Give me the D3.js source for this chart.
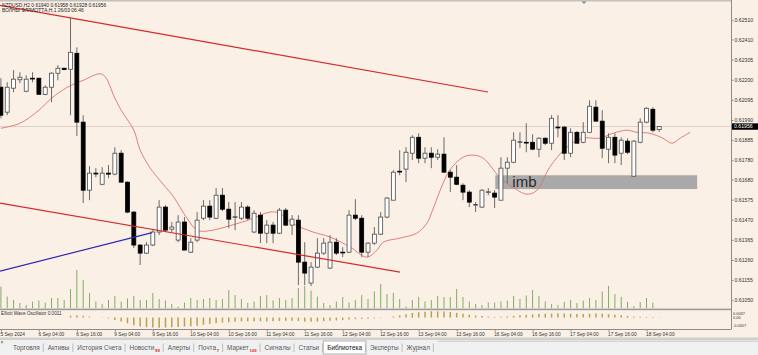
<!DOCTYPE html>
<html>
<head>
<meta charset="utf-8">
<script src="https://cdn.jsdelivr.net/npm/d3@7/dist/d3.min.js"></script>
<style>
  body { margin: 0; overflow: hidden; background: #fbf0e6; }
  svg { display: block; font-family: "Liberation Sans", Arial, sans-serif; }
</style>
</head>
<body>
<svg id="chart" width="758" height="355"></svg>
<script>
// NZDUSD H2, bars 0..104 = 5 Sep 16:00 .. 18 Sep 08:00
const opens = [
  0.62161, 0.62031, 0.62156, 0.62200, 0.62140, 0.62208, 0.62208, 0.62124, 0.62161, 0.62234,
  0.62260, 0.62255, 0.62338, 0.61979, 0.61624, 0.61713, 0.61655, 0.61713, 0.61708, 0.61817,
  0.61666, 0.61510, 0.61338, 0.61296, 0.61338, 0.61406, 0.61536, 0.61421, 0.61364, 0.61458,
  0.61301, 0.61364, 0.61478, 0.61541, 0.61478, 0.61598, 0.61525, 0.61482, 0.61478, 0.61536,
  0.61406, 0.61494, 0.61400, 0.61442, 0.61400, 0.61520, 0.61442, 0.61468, 0.61249, 0.61140,
  0.61223, 0.61296, 0.61218, 0.61353, 0.61301, 0.61301, 0.61494, 0.61478, 0.61301, 0.61348,
  0.61395, 0.61484, 0.61572, 0.61723, 0.61734, 0.61817, 0.61900, 0.61791, 0.61817, 0.61796,
  0.61812, 0.61718, 0.61692, 0.61650, 0.61614, 0.61546, 0.61536, 0.61614, 0.61609, 0.61572,
  0.61739, 0.61770, 0.61874, 0.61874, 0.61874, 0.61838, 0.61895, 0.61869, 0.61953, 0.61953,
  0.61817, 0.61926, 0.61874, 0.61926, 0.62057, 0.61984, 0.61838, 0.61900, 0.61817, 0.61880,
  0.61697, 0.61874, 0.61979, 0.62046, 0.61940
];
const highs = [
  0.62208, 0.62187, 0.62250, 0.62239, 0.62223, 0.62239, 0.62210, 0.62171, 0.62239, 0.62276,
  0.62262, 0.62520, 0.62369, 0.62015, 0.61749, 0.61739, 0.61744, 0.61755, 0.61848, 0.61833,
  0.61670, 0.61515, 0.61343, 0.61353, 0.61416, 0.61572, 0.61546, 0.61458, 0.61494, 0.61484,
  0.61374, 0.61510, 0.61572, 0.61572, 0.61635, 0.61635, 0.61562, 0.61562, 0.61562, 0.61546,
  0.61520, 0.61510, 0.61468, 0.61458, 0.61531, 0.61531, 0.61494, 0.61494, 0.61353, 0.61249,
  0.61374, 0.61374, 0.61390, 0.61374, 0.61327, 0.61520, 0.61577, 0.61494, 0.61353, 0.61432,
  0.61510, 0.61588, 0.61728, 0.61833, 0.61848, 0.61911, 0.61921, 0.61848, 0.61848, 0.61838,
  0.61900, 0.61730, 0.61755, 0.61660, 0.61624, 0.61562, 0.61630, 0.61635, 0.61624, 0.61796,
  0.61796, 0.61926, 0.61926, 0.61973, 0.61916, 0.61900, 0.61900, 0.62015, 0.62015, 0.61958,
  0.61947, 0.61932, 0.61979, 0.62093, 0.62093, 0.62041, 0.61921, 0.61921, 0.61900, 0.61895,
  0.61885, 0.61999, 0.62057, 0.62057, 0.61958
];
const lows = [
  0.61999, 0.62015, 0.62135, 0.62182, 0.62135, 0.62187, 0.62124, 0.62119, 0.62083, 0.62197,
  0.62250, 0.62015, 0.61906, 0.61557, 0.61572, 0.61692, 0.61650, 0.61687, 0.61702, 0.61666,
  0.61504, 0.61322, 0.61234, 0.61291, 0.61333, 0.61390, 0.61406, 0.61406, 0.61353, 0.61312,
  0.61296, 0.61353, 0.61468, 0.61468, 0.61473, 0.61515, 0.61426, 0.61416, 0.61468, 0.61468,
  0.61400, 0.61348, 0.61348, 0.61348, 0.61395, 0.61437, 0.61390, 0.61129, 0.61129, 0.61124,
  0.61218, 0.61286, 0.61213, 0.61286, 0.61275, 0.61296, 0.61468, 0.61275, 0.61275, 0.61338,
  0.61390, 0.61478, 0.61572, 0.61702, 0.61666, 0.61781, 0.61765, 0.61765, 0.61739, 0.61781,
  0.61718, 0.61614, 0.61650, 0.61572, 0.61536, 0.61510, 0.61531, 0.61598, 0.61531, 0.61572,
  0.61660, 0.61765, 0.61843, 0.61822, 0.61833, 0.61796, 0.61859, 0.61833, 0.61900, 0.61781,
  0.61796, 0.61869, 0.61869, 0.61926, 0.61984, 0.61791, 0.61765, 0.61765, 0.61755, 0.61812,
  0.61697, 0.61869, 0.61973, 0.61926, 0.61928
];
const closes = [
  0.62015, 0.62161, 0.62203, 0.62213, 0.62203, 0.62206, 0.62124, 0.62161, 0.62234, 0.62260,
  0.62253, 0.62343, 0.61979, 0.61624, 0.61713, 0.61711, 0.61713, 0.61708, 0.61817, 0.61666,
  0.61510, 0.61338, 0.61296, 0.61338, 0.61406, 0.61536, 0.61416, 0.61432, 0.61458, 0.61312,
  0.61353, 0.61468, 0.61541, 0.61484, 0.61598, 0.61525, 0.61473, 0.61486, 0.61536, 0.61478,
  0.61504, 0.61400, 0.61442, 0.61400, 0.61520, 0.61442, 0.61473, 0.61249, 0.61192, 0.61223,
  0.61296, 0.61348, 0.61353, 0.61296, 0.61299, 0.61494, 0.61478, 0.61301, 0.61348, 0.61395,
  0.61484, 0.61583, 0.61718, 0.61720, 0.61822, 0.61900, 0.61791, 0.61817, 0.61796, 0.61812,
  0.61718, 0.61692, 0.61655, 0.61614, 0.61562, 0.61550, 0.61624, 0.61616, 0.61588, 0.61739,
  0.61770, 0.61885, 0.61877, 0.61872, 0.61838, 0.61895, 0.61869, 0.61999, 0.61950, 0.61817,
  0.61926, 0.61869, 0.61926, 0.62062, 0.61984, 0.61843, 0.61900, 0.61807, 0.61885, 0.61822,
  0.61880, 0.61979, 0.62051, 0.61937, 0.61956
];
// tick volume
const volumes = [
  2200, 1200, 850, 550, 350, 700, 800, 600, 1050, 1050,
  850, 1950, 3850, 2850, 1550, 700, 450, 850, 1250, 700,
  1000, 1250, 850, 850, 1550, 950, 800, 450, 200, 600,
  1050, 850, 950, 1050, 850, 950, 1850, 1350, 950, 550,
  700, 1250, 1350, 800, 1050, 850, 1050, 2050, 2250, 1800,
  1200, 550, 350, 700, 1150, 600, 850, 1350, 950, 1700,
  2450, 1450, 1550, 950, 200, 850, 1150, 700, 850, 1250,
  1150, 1150, 1950, 1150, 700, 450, 350, 600, 600, 700,
  800, 1250, 950, 1300, 1850, 1250, 700, 450, 350, 650,
  850, 550, 800, 1050, 850, 1700, 2250, 1450, 1150, 650,
  250, 650, 1050, 600, 50
];
// Elliott Wave Oscillator histogram
const ewo = [
  0, 0, 0, 0, 0, 0, 0, 0, 0, 0, 0,
  0.0010, 0.0012, 0.0009, 0.0005, 0.0001, -0.0001, -0.0004, -0.0012, -0.0020, -0.0030,
  -0.0040, -0.0046, -0.0050, -0.0052, -0.0053, -0.0052, -0.0050, -0.0049, -0.0047, -0.0045,
  -0.0042, -0.0038, -0.0034, -0.0030, -0.0026, -0.0024, -0.0022, -0.0020, -0.0019, -0.0019,
  -0.0020, -0.0020, -0.0019, -0.0018, -0.0017, -0.0016, -0.0018, -0.0021, -0.0022, -0.0021,
  -0.0019, -0.0017, -0.0015, -0.0013, -0.0010, -0.0008, -0.0007, -0.0006, -0.0004, -0.0002,
  0.0001, 0.0006, 0.0012, 0.0018, 0.0024, 0.0028, 0.0031, 0.0033, 0.0033, 0.0032,
  0.0029, 0.0025, 0.0020, 0.0015, 0.0011, 0.0008, 0.0005, 0.0003, 0.0004, 0.0006,
  0.0009, 0.0012, 0.0015, 0.0017, 0.0019, 0.0020, 0.0021, 0.0022, 0.0021, 0.0020,
  0.0019, 0.0019, 0.0020, 0.0021, 0.0020, 0.0018, 0.0015, 0.0012, 0.0009, 0.0006,
  0.0004, 0.0003, 0.0003, 0.0002
];
// moving average: [bar, price]
const maPoints = [
  [0, 0.61947], [3, 0.61973], [6, 0.62041], [8, 0.62104], [10.5, 0.62161], [13, 0.62197],
  [16, 0.62229], [18, 0.62104], [19, 0.62041], [21, 0.61937], [22, 0.61833], [23.6, 0.61739],
  [25.1, 0.61676], [27.2, 0.61593], [29.4, 0.61478], [31, 0.61416], [32.6, 0.61411],
  [36.5, 0.61442], [39.5, 0.61473], [42.5, 0.61510], [44, 0.61504], [46, 0.61452],
  [49.3, 0.61406], [52, 0.61380], [55.2, 0.61327], [57.8, 0.61275], [59.4, 0.61312],
  [60.4, 0.61353], [63, 0.61374], [65.7, 0.61400], [67.3, 0.61452], [68.2, 0.61520],
  [69.4, 0.61624], [70.9, 0.61728], [73, 0.61796], [74.6, 0.61807], [76.2, 0.61791],
  [78.8, 0.61692], [80.9, 0.61640], [83.1, 0.61603], [84.7, 0.61624], [86.7, 0.61744],
  [89.4, 0.61848], [91.9, 0.61895], [94.6, 0.61895], [96.7, 0.61921], [98.9, 0.61937],
  [100.5, 0.61926], [102.5, 0.61921], [104.6, 0.61895], [106, 0.61869], [107.3, 0.61895],
  [108.9, 0.61926]
];
// trend lines [bar, price]
const trendUpper = [[-0.14, 0.62588], [76.95, 0.62136]];
const trendLower = [[-0.14, 0.61557], [63.05, 0.61197]];
const trendBlue = [[-0.14, 0.61202], [23.9, 0.61403]];
// "imb" zone: bar from, bar to, price top, price bottom
const imbZone = [78.1, 110, 0.61702, 0.61630];

const priceTicks = [0.62510, 0.62410, 0.62305, 0.62200, 0.62095, 0.61990, 0.61885, 0.61780,
  0.61680, 0.61575, 0.61470, 0.61365, 0.61260, 0.61155, 0.61050];
const lastPrice = 0.61956;
const timeTickBars = [0, 6, 12, 18, 24, 30, 36, 42, 48, 54, 60, 66, 72, 78, 84, 90, 96, 102];
const timeLabels = ["5 Sep 2024", "6 Sep 04:00", "6 Sep 16:00", "9 Sep 04:00", "9 Sep 16:00",
  "10 Sep 04:00", "10 Sep 16:00", "11 Sep 04:00", "11 Sep 16:00", "12 Sep 04:00", "12 Sep 16:00",
  "13 Sep 04:00", "13 Sep 16:00", "16 Sep 04:00", "16 Sep 16:00", "17 Sep 04:00", "17 Sep 16:00",
  "18 Sep 04:00"];
const ewoTicks = [0.0037, 0, -0.0057];
const ewoTickLabels = ["0.0037", "0.00", "-0.0057"];
const tabNames = ["Торговля", "Активы", "История Счета", "Новости", "Алерты", "Почта", "Маркет",
  "Сигналы", "Статьи", "Библиотека", "Эксперты", "Журнал"];
const tabBadges = ["", "", "", "99", "", "7", "109", "", "", "", "", ""];
const activeTab = "Библиотека";

const W = 758, H = 355, plotR = 731;
const svg = d3.select("#chart");

svg.append("rect").attr("width", W).attr("height", H).attr("fill", "#fbf0e6");

const x = d3.scaleLinear().domain([0, 104]).range([0.9, 659.2]);
const y = d3.scaleLinear().domain([0.61050, 0.62510]).range([300.3, 20.3]);
const yVol = d3.scaleLinear().domain([0, 4000]).range([308.5, 268.5]);
const yEwo = d3.scaleLinear().domain([-0.0057, 0.0037]).range([328.5, 310.5]);
const bw = (x(1) - x(0)) * 0.62;

const defs = svg.append("defs");
defs.append("clipPath").attr("id", "clipMain")
  .append("rect").attr("x", 0).attr("y", 1.5).attr("width", plotR).attr("height", 307);
defs.append("clipPath").attr("id", "clipSub")
  .append("rect").attr("x", 0).attr("y", 310).attr("width", plotR).attr("height", 19);

// top border
svg.append("rect").attr("x", 0).attr("y", 0).attr("width", plotR).attr("height", 1.5).attr("fill", "#c4c0bc");

const main = svg.append("g").attr("clip-path", "url(#clipMain)");

// bid line
main.append("line")
  .attr("x1", 0).attr("x2", plotR)
  .attr("y1", y(lastPrice)).attr("y2", y(lastPrice))
  .attr("stroke", "#dccfc4").attr("stroke-width", 1);

// imb rectangle (background object)
main.append("rect")
  .attr("x", x(imbZone[0]))
  .attr("width", x(imbZone[1]) - x(imbZone[0]))
  .attr("y", y(imbZone[2]))
  .attr("height", y(imbZone[3]) - y(imbZone[2]))
  .attr("fill", "#a9a9a9");

// volumes
main.selectAll("line.vol")
  .data(volumes)
  .join("line")
  .attr("class", "vol")
  .attr("x1", (d, i) => x(i)).attr("x2", (d, i) => x(i))
  .attr("y1", yVol(0)).attr("y2", d => yVol(d))
  .attr("stroke", "#7fae63").attr("stroke-width", 1);

// moving average
const maLine = d3.line()
  .x(d => x(d[0]))
  .y(d => y(d[1]))
  .curve(d3.curveCatmullRom);

main.append("path")
  .datum(maPoints)
  .attr("d", maLine)
  .attr("fill", "none")
  .attr("stroke", "#d9736f")
  .attr("stroke-width", 0.9);

// candles
const candle = main.selectAll("g.candle")
  .data(d3.range(opens.length))
  .join("g")
  .attr("class", "candle");

candle.append("line")
  .attr("x1", i => x(i)).attr("x2", i => x(i))
  .attr("y1", i => y(highs[i])).attr("y2", i => y(lows[i]))
  .attr("stroke", "#6a6a6a").attr("stroke-width", 1);

candle.append("rect")
  .attr("x", i => x(i) - bw / 2)
  .attr("width", bw)
  .attr("y", i => y(Math.max(opens[i], closes[i])))
  .attr("height", i => Math.max(0.8, Math.abs(y(opens[i]) - y(closes[i]))))
  .attr("fill", i => closes[i] >= opens[i] ? "#ffffff" : "#000000")
  .attr("stroke", i => closes[i] >= opens[i] ? "#4a4a4a" : "#000000")
  .attr("stroke-width", 0.8);

// trend lines
const tl = d3.line().x(d => x(d[0])).y(d => y(d[1]));
[[trendUpper, "#d42a2a"], [trendLower, "#d42a2a"], [trendBlue, "#2a2ab4"]].forEach(([pts, c]) => {
  main.append("path").attr("d", tl(pts)).attr("fill", "none")
    .attr("stroke", c).attr("stroke-width", 1.2);
});

main.append("text")
  .attr("x", x(80.8)).attr("y", y(imbZone[3]) - 2)
  .attr("font-size", 15).attr("fill", "#2a2a2a")
  .text("imb");

// header
svg.append("text").attr("x", 2).attr("y", 6.6).attr("font-size", 4.9).attr("fill", "#222")
  .text("NZDUSD,H2  0.61940 0.61958 0.61928 0.61956");
svg.append("text").attr("x", 2).attr("y", 11.6).attr("font-size", 4.9).attr("fill", "#222")
  .text("ВОЛНЫ ЭЛЛИОТТА,H,1  26/03 06:46");

// shift marker
svg.append("path").attr("d", "M581.5,1.5 L586.5,1.5 L584,4 Z").attr("fill", "#8a8a8a");

// sub window
svg.append("rect").attr("x", 0).attr("y", 308.6).attr("width", plotR).attr("height", 1.6).attr("fill", "#9c9c9c");

const sub = svg.append("g").attr("clip-path", "url(#clipSub)");
sub.selectAll("line.ewo")
  .data(ewo)
  .join("line")
  .attr("class", "ewo")
  .attr("x1", (d, i) => x(i)).attr("x2", (d, i) => x(i))
  .attr("y1", yEwo(0)).attr("y2", d => yEwo(d))
  .attr("stroke", "#b8a34c").attr("stroke-width", 1.5);

svg.append("text").attr("x", 1).attr("y", 315).attr("font-size", 4.7).attr("fill", "#333")
  .text("Elliott Wave Oscillator 0.0011");

// axis frame lines
svg.append("line").attr("x1", 0).attr("x2", plotR).attr("y1", 329.5).attr("y2", 329.5)
  .attr("stroke", "#8c8c8c").attr("stroke-width", 1);
svg.append("line").attr("x1", plotR + 0.5).attr("x2", plotR + 0.5).attr("y1", 0).attr("y2", 329.5)
  .attr("stroke", "#8c8c8c").attr("stroke-width", 1);

// time axis
const xAxis = d3.axisBottom(x)
  .tickValues(timeTickBars)
  .tickFormat((d, k) => timeLabels[k])
  .tickSize(2)
  .tickPadding(1);

const gx = svg.append("g").attr("transform", "translate(0,329.5)").call(xAxis);
gx.select(".domain").remove();
gx.selectAll("line").attr("stroke", "#8c8c8c");
gx.selectAll("text")
  .attr("text-anchor", "start")
  .attr("x", -1)
  .attr("font-size", 4.8)
  .attr("font-family", "Liberation Sans, Arial, sans-serif")
  .attr("fill", "#333");

// price axis
const yAxis = d3.axisRight(y)
  .tickValues(priceTicks)
  .tickFormat(d3.format(".5f"))
  .tickSize(2)
  .tickPadding(1);

const gy = svg.append("g").attr("transform", `translate(${plotR + 0.5},0)`).call(yAxis);
gy.select(".domain").remove();
gy.selectAll("line").attr("stroke", "#8c8c8c");
gy.selectAll("text")
  .attr("font-size", 5.2)
  .attr("font-family", "Liberation Sans, Arial, sans-serif")
  .attr("fill", "#333");

// current price box
svg.append("rect").attr("x", plotR + 1).attr("y", y(lastPrice) - 3.2)
  .attr("width", 26).attr("height", 6.4).attr("fill", "#000");
svg.append("text").attr("x", plotR + 3).attr("y", y(lastPrice) + 1.9)
  .attr("font-size", 5.2).attr("fill", "#fff").text(d3.format(".5f")(lastPrice));

// oscillator axis labels
const ewoDy = [4.0, 1.3, -1.5];
svg.selectAll("text.ewotick")
  .data(ewoTicks)
  .join("text")
  .attr("class", "ewotick")
  .attr("x", plotR + 2)
  .attr("y", (d, k) => yEwo(d) + ewoDy[k])
  .attr("font-size", 3.9)
  .attr("fill", "#333")
  .text((d, k) => ewoTickLabels[k]);

// terminal tab bar
svg.append("rect").attr("x", 0).attr("y", 337.5).attr("width", W).attr("height", 2.5).attr("fill", "#cfcfcf");
svg.append("rect").attr("x", 0).attr("y", 340).attr("width", W).attr("height", 15).attr("fill", "#f0f0f0");
svg.append("text").attr("x", 0.5).attr("y", 343.5).attr("font-size", 5).attr("fill", "#444").text("×");

const tabs = svg.append("g");
let tx = 13;
tabNames.forEach((name, k) => {
  const active = name === activeTab;
  const bg = tabs.append("rect");
  const t = tabs.append("text").attr("x", tx).attr("y", 350)
    .attr("font-size", 6.4).attr("fill", active ? "#111" : "#5a5a5a").text(name);
  const w = t.node().getComputedTextLength();
  let end = tx + w;
  if (tabBadges[k]) {
    const b = tabs.append("text").attr("x", end + 0.8).attr("y", 351.5)
      .attr("font-size", 4.2).attr("font-weight", "bold").attr("fill", "#e02020").text(tabBadges[k]);
    end += 0.8 + b.node().getComputedTextLength();
  }
  if (active) {
    bg.attr("x", tx - 4).attr("y", 341).attr("width", end - tx + 8).attr("height", 13)
      .attr("fill", "#ffffff").attr("stroke", "#a0a0a0").attr("stroke-width", 0.8);
  } else {
    bg.remove();
  }
  const sx = end + 3.5;
  tabs.append("line").attr("x1", sx).attr("x2", sx).attr("y1", 343.5).attr("y2", 352)
    .attr("stroke", "#b0b0b0").attr("stroke-width", 0.8);
  tx = sx + 4.5;
});
svg.append("line").attr("x1", tx).attr("x2", W).attr("y1", 341.2).attr("y2", 341.2)
  .attr("stroke", "#c0c0c0").attr("stroke-width", 0.8);
</script>
</body>
</html>
